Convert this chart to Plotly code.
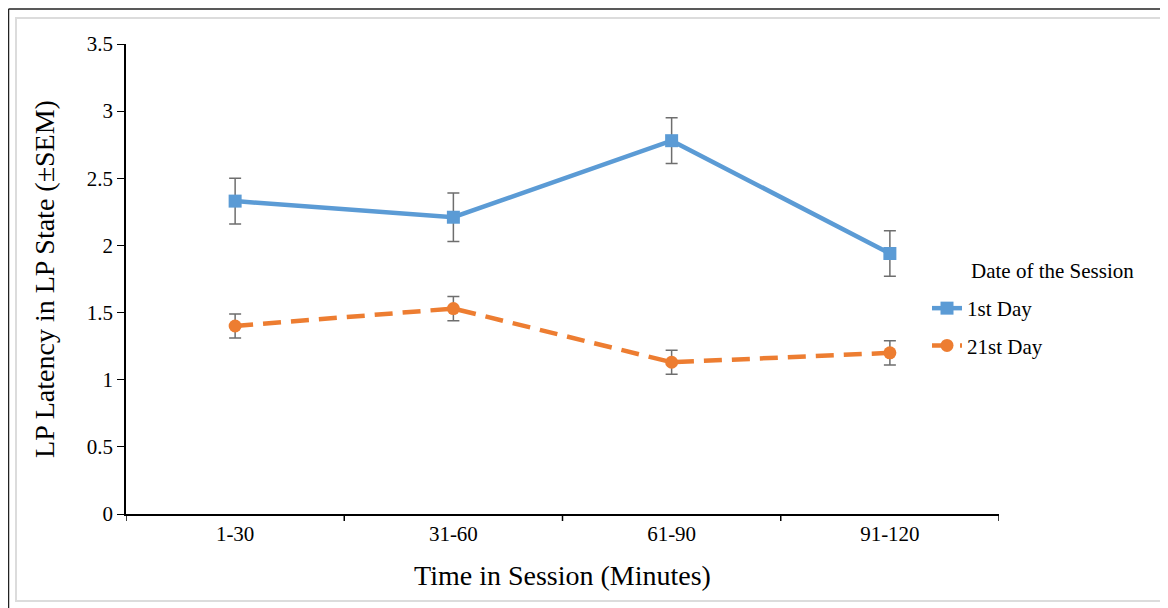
import plotly.graph_objects as go

categories = ["1-30", "31-60", "61-90", "91-120"]
day1 = [2.33, 2.21, 2.78, 1.94]
day1_sem = [0.17, 0.18, 0.17, 0.17]
day21 = [1.40, 1.53, 1.13, 1.20]
day21_sem = [0.09, 0.09, 0.09, 0.09]
yticks = [0, 0.5, 1, 1.5, 2, 2.5, 3, 3.5]
ytick_labels = ["0", "0.5", "1", "1.5", "2", "2.5", "3", "3.5"]

FONT = "Liberation Serif, Times New Roman, serif"
xpos = list(range(len(categories)))

# figure geometry (page has an 8px body margin)
W, H = 1160, 600
L, R, T, B = 118, 169, 36, 94
PW, PH = W - L - R, H - T - B


def px(fx):
    return (fx - L) / PW


def py(fy):
    return (H - B - fy) / PH


fig = go.Figure()
fig.add_trace(go.Scatter(
    x=xpos, y=day1, name="1st Day", mode="lines+markers", legendgroup="a",
    line=dict(color="#5B9BD5", width=4.5),
    marker=dict(symbol="square", size=13, color="#5B9BD5"),
    error_y=dict(type="data", array=day1_sem, color="#6e6e6e", thickness=1.5, width=6),
))
fig.add_trace(go.Scatter(
    x=xpos, y=day21, name="21st Day", mode="lines+markers", legendgroup="b",
    line=dict(color="#ED7D31", width=4.5, dash="18px,10px"),
    marker=dict(symbol="circle", size=13, color="#ED7D31"),
    error_y=dict(type="data", array=day21_sem, color="#6e6e6e", thickness=1.5, width=6),
))

fig.update_layout(
    width=W, height=H,
    margin=dict(l=L, r=R, t=T, b=B),
    paper_bgcolor="white", plot_bgcolor="white",
    font=dict(family=FONT, color="black", size=21),
    showlegend=True,
    legend=dict(
        x=px(919), xanchor="left", y=py(280), yanchor="top",
        font=dict(size=21, family=FONT),
        bgcolor="rgba(0,0,0,0)",
        tracegroupgap=7,
    ),
    xaxis=dict(
        range=[-0.5, 3.5], tickmode="array", tickvals=xpos, ticktext=categories,
        showline=True, linecolor="black", linewidth=1.5, ticks="", showgrid=False,
        zeroline=False, tickfont=dict(size=21, family=FONT),
        title=dict(text="Time in Session (Minutes)", font=dict(size=28, family=FONT), standoff=20),
    ),
    yaxis=dict(
        range=[0, 3.5], tickmode="array", tickvals=yticks, ticktext=ytick_labels,
        showline=True, linecolor="black", linewidth=1.5, ticks="outside", ticklen=7,
        tickcolor="black", showgrid=False, zeroline=False,
        tickfont=dict(size=21, family=FONT),
        title=dict(text="LP Latency in LP State (±SEM)", font=dict(size=28, family=FONT), standoff=24),
    ),
    annotations=[dict(
        text="Date of the Session", xref="paper", yref="paper",
        x=px(961), y=py(263), xanchor="left", yanchor="middle", showarrow=False,
        font=dict(size=21, family=FONT, color="black"),
    )],
)

# category boundary tick marks on x-axis
for b in [-0.5, 0.5, 1.5, 2.5, 3.5]:
    fig.add_shape(type="line", xref="x", yref="paper", x0=b, x1=b, y0=0, y1=-7 / PH,
                  line=dict(color="black", width=1.5))

# frames
fig.add_shape(type="line", xref="paper", yref="paper", x0=px(0.5), x1=px(W), y0=py(1), y1=py(1),
              line=dict(color="#222222", width=1.5), layer="below")
fig.add_shape(type="line", xref="paper", yref="paper", x0=px(0.5), x1=px(0.5), y0=py(1), y1=py(H),
              line=dict(color="#222222", width=1.5), layer="below")
fig.add_shape(type="rect", xref="paper", yref="paper",
              x0=px(8), x1=px(1153), y0=py(593), y1=py(10),
              line=dict(color="#dcdcdc", width=2), layer="below")

fig.write_html("out.html")
